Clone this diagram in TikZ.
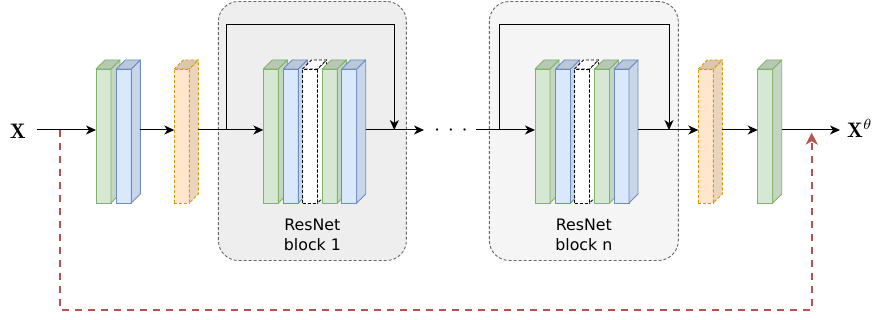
\documentclass[tikz,border=0pt]{standalone}
\usepackage{fontspec}
\newfontfamily\labelfont{DejaVu Sans}
\usetikzlibrary{calc,arrows.meta}
\definecolor{gF}{HTML}{D5E8D4}\definecolor{gD}{HTML}{82B366}
\definecolor{bF}{HTML}{DAE8FC}\definecolor{bD}{HTML}{6C8EBF}
\definecolor{oF}{HTML}{FFE6CC}\definecolor{oD}{HTML}{D79B00}
\definecolor{wF}{HTML}{FFFFFF}\definecolor{wD}{HTML}{000000}
\colorlet{gS}{gF!92!black}\colorlet{gT}{gF!86!black}
\colorlet{bS}{bF!92!black}\colorlet{bT}{bF!86!black}
\colorlet{oS}{oF!92!black}\colorlet{oT}{oF!86!black}
\colorlet{wS}{white}\colorlet{wT}{white}
\definecolor{redD}{HTML}{B85450}
\definecolor{blkOneF}{HTML}{EEEEEE}
\definecolor{blkNF}{HTML}{F5F5F5}
\definecolor{blkD}{HTML}{666666}
\tikzset{
  gX/.style={}, bX/.style={},
  oX/.style={dash pattern=on 3pt off 2pt},
  wX/.style={dash pattern=on 3pt off 2pt},
  layerbox/.style={rectangle, minimum width=15pt, minimum height=134pt, inner sep=0pt, outer sep=0pt, line width=0.9pt},
  face/.style={line width=0.9pt, line join=round},
  block/.style={rectangle, rounded corners=20pt, draw=blkD, line width=0.9pt, dash pattern=on 3pt off 2pt, inner sep=0pt},
  lbl/.style={align=center, font=\labelfont\fontsize{15.8}{20.5}\selectfont, inner sep=0pt},
  arr/.style={-{Stealth[length=10pt,width=9pt,inset=3pt]}, line width=1pt, black},
  line/.style={line width=1pt, black},
  redarr/.style={-{Stealth[length=12pt,width=12pt,inset=3.5pt]}, line width=1.8pt, redD, dash pattern=on 7pt off 6pt},
  bigmath/.style={inner sep=0pt},
}
\newcommand\layer[3]{%
  \node[layerbox, fill=#3F, draw=#3D, #3X] (#1) at (#2+7.5,136) {};
  \draw[face, draw=#3D, fill=#3S, #3X] (#1.north east) -- ++(9,-9) -- ++(0,134) -- (#1.south east) -- cycle;
  \draw[face, draw=#3D, fill=#3T, #3X] (#1.north west) -- ++(9,-9) -- ++(15,0) -- (#1.north east) -- cycle;
  \coordinate (#1r) at ($(#1.east)+(9,0)$);
}
\begin{document}
\begin{tikzpicture}[x=1pt,y=-1pt]
\useasboundingbox (0,0) rectangle (875,320);
% blocks
\node[block, fill=blkOneF, minimum width=188pt, minimum height=259pt] (blk1) at (312.4,131) {};
\node[block, fill=blkNF, minimum width=189pt, minimum height=259pt] (blkn) at (583.8,131) {};
\node[lbl] (t1) at (312.4,235) {ResNet\\block 1};
\node[lbl] (tn) at (583.8,235) {ResNet\\block n};
% helper coordinates
\coordinate (mid) at (0,130);
\coordinate (top) at (0,24.3);
\coordinate (xin) at (37,130);
\coordinate (k1) at (226.7,130);
\coordinate (s1) at (394.3,130);
\coordinate (d1) at (424,130);
\coordinate (nin) at (476,130);
\coordinate (k2) at (499.3,130);
\coordinate (s2) at (669,130);
\coordinate (xend) at (840,130);
\coordinate (rs) at (60,130);
\coordinate (rb) at (60,310);
\coordinate (re) at (811.7,132.7);
% texts
\node[bigmath] (xl) at (17.7,131.5) {\scalebox{2.1}{$\mathbf{X}$}};
\node[bigmath, anchor=base west] (xo) at (847,137.5) {\scalebox{2.1}{$\mathbf{X}^{\theta}$}};
\node[inner sep=0pt] (dots) at (451,131) {\scalebox{2.2}{$\cdotp\hspace{1.8pt}\cdotp\hspace{1.8pt}\cdotp$}};
% layers
\layer{g1}{96}{g}
\layer{b1}{116.3}{b}
\layer{o1}{174.3}{o}
\layer{g2}{263.3}{g}
\layer{b2}{283.3}{b}
\layer{w2}{302.5}{w}
\layer{g3}{322.3}{g}
\layer{b3}{341.7}{b}
\layer{g4}{535}{g}
\layer{b4}{555.5}{b}
\layer{w4}{574.5}{w}
\layer{g5}{594.5}{g}
\layer{b5}{614}{b}
\layer{o2}{698.3}{o}
\layer{g6}{757.7}{g}
% connectors
\draw[redarr] (rs) -- (rb) -| (re);
\draw[arr] (xin) -- (g1.west |- mid);
\draw[arr] (b1r |- mid) -- (o1.west |- mid);
\draw[line] (o1r |- mid) -- (k1);
\draw[arr] (k1) -- (g2.west |- mid);
\draw[arr] (k1) -- (k1 |- top) -| (s1);
\draw[arr] (b3r |- mid) -- (d1);
\draw[line] (nin) -- (k2);
\draw[arr] (k2) -- (g4.west |- mid);
\draw[arr] (k2) -- (k2 |- top) -| (s2);
\draw[arr] (b5r |- mid) -- (o2.west |- mid);
\draw[arr] (o2r |- mid) -- (g6.west |- mid);
\draw[arr] (g6r |- mid) -- (xend);
\end{tikzpicture}
\end{document}
